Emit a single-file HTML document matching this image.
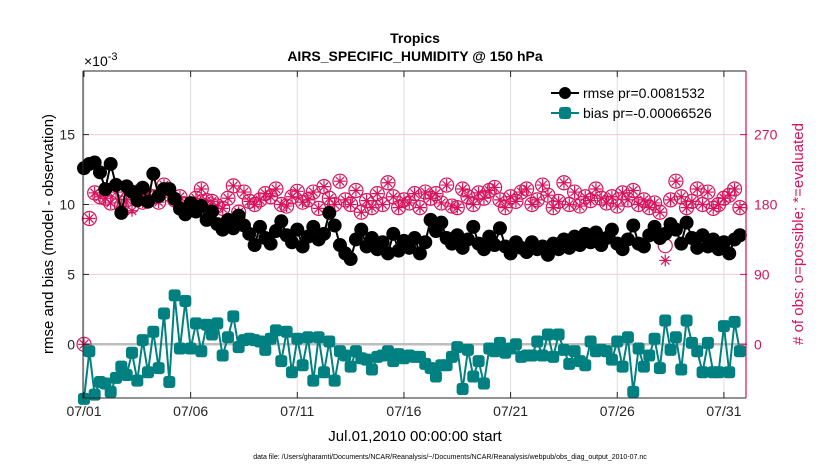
<!DOCTYPE html>
<html><head><meta charset="utf-8">
<style>
html,body{margin:0;padding:0;background:#fff;}
svg{display:block;font-family:"Liberation Sans",sans-serif;}
</style></head>
<body>
<svg id="chart" width="830" height="470" viewBox="0 0 830 470">
  <text x="415" y="43" text-anchor="middle" font-size="14" font-weight="bold">Tropics</text>
  <text x="415" y="61" text-anchor="middle" font-size="14" font-weight="bold">AIRS_SPECIFIC_HUMIDITY @ 150 hPa</text>
  <text x="84" y="66" font-size="14">×10<tspan dy="-6" font-size="11">-3</tspan></text>
  <text transform="translate(53,234) rotate(-90)" text-anchor="middle" font-size="15">rmse and bias (model - observation)</text>
  <text transform="translate(803,234) rotate(-90)" text-anchor="middle" font-size="15" fill="#d6135c"># of obs: o=possible; *=evaluated</text>
  <text x="415" y="441" text-anchor="middle" font-size="15">Jul.01,2010 00:00:00 start</text>
  <text x="450" y="459" text-anchor="middle" font-size="7">data file: /Users/gharamti/Documents/NCAR/Reanalysis/~/Documents/NCAR/Reanalysis/webpub/obs_diag_output_2010-07.nc</text>
  <g id="grid"></g>
  <g id="marks"></g>
  <g id="axes"></g>
  <g id="legend">
    <line x1="551" y1="93" x2="579" y2="93" stroke="#000" stroke-width="2"/>
    <circle cx="565" cy="93" r="6" fill="#000"/>
    <text x="583" y="98" font-size="14">rmse pr=0.0081532</text>
    <line x1="551" y1="113" x2="579" y2="113" stroke="#008080" stroke-width="2"/>
    <rect x="559" y="107" width="12" height="12" rx="3" fill="#008080"/>
    <text x="583" y="118" font-size="14">bias pr=-0.00066526</text>
  </g>
</svg>
<script>
const xTickLabels = ["07/01","07/06","07/11","07/16","07/21","07/26","07/31"];
const xTickDays = [0,5,10,15,20,25,30];
const yTicks = [0,5,10,15];
const yRightTicks = [0,90,180,270];
const rmse = [12.6,12.9,13.0,12.3,11.1,12.9,11.4,9.4,11.3,10.9,10.3,11.2,10.2,12.2,10.6,11.1,
11.1,10.4,9.7,9.3,10.1,9.5,9.9,8.9,9.5,8.6,8.2,8.9,8.3,9.2,8.5,7.9,
7.1,8.4,7.6,7.2,8.1,8.8,7.8,7.3,8.2,7.0,7.7,8.4,7.5,7.9,9.4,8.5,
7.1,6.5,6.1,7.5,8.2,7.0,7.6,6.8,7.3,6.5,7.9,6.7,7.4,6.9,7.6,6.5,
7.3,8.9,8.1,8.7,7.6,7.2,7.8,6.9,7.5,8.4,7.2,6.8,7.7,7.1,8.3,7.0,
6.5,7.3,6.9,6.6,7.3,6.8,7.0,6.4,7.2,6.8,7.5,6.9,7.7,7.1,7.9,7.3,
8.0,7.1,7.6,8.2,7.2,6.8,7.5,8.5,7.2,7.0,7.8,8.4,7.6,7.9,8.6,8.2,
7.2,8.7,7.6,6.9,7.8,7.0,7.5,6.8,7.3,6.5,7.5,7.8];
const bias = [-3.9,-0.5,-3.6,-2.7,-2.8,-3.4,-2.4,-1.6,-2.2,-0.6,
-2.6,0.3,-2.0,0.9,-1.7,2.2,-2.7,3.5,-0.3,3.1,
-0.3,1.5,-0.5,1.4,0.7,1.5,-0.8,0.5,2.0,-0.2,
0.3,0.4,0.3,0.2,-0.4,0.4,1.0,-1.2,0.9,-2.0,
0.4,-1.5,0.5,-2.6,0.5,-2.0,0.2,-2.6,-0.5,-0.8,
-1.6,-0.5,-1.0,-1.1,-1.8,-0.9,-0.8,-0.5,-1.2,-0.7,-1.0,
-0.8,-0.9,-0.9,-1.4,-1.7,-2.3,-1.5,-1.5,-0.9,-0.2,
-3.2,-0.4,-2.3,-1.2,-2.8,-0.3,-0.5,0.1,-0.6,-0.3,
0,-0.9,-0.8,-0.8,0.2,-0.8,0.7,-0.9,0.7,-0.4,
-1.4,-0.5,-1.2,-1.5,0.2,-0.5,-0.4,-0.5,-1.1,0.2,
-1.6,0.5,-3.4,-0.3,-1.6,-0.8,0.4,-1.7,1.7,-0.4,
0.5,-1.8,1.7,0.1,-0.5,-2.0,0.1,-2.0,-2.0,1.3,
-2.0,1.6,-0.5];
const possible = [0,162,195,190,188,182,196,178,186,178,196,183,192,190,183,205,
193,186,190,180,178,188,200,185,184,178,175,188,204,170,196,184,
180,186,194,190,200,180,178,190,197,183,186,196,175,203,188,180,
210,186,180,198,170,185,176,194,180,208,190,176,186,182,194,176,
196,188,194,182,205,178,176,200,190,180,195,188,198,202,186,176,
190,184,196,200,180,186,205,192,176,184,208,180,196,178,190,185,
200,188,182,190,178,195,186,198,180,186,176,182,170,127,186,210,
190,176,184,200,180,196,175,180,188,192,200,176];
const evaluated = [0,162,195,190,188,182,196,178,186,172,196,183,192,190,183,205,
193,186,190,180,178,188,200,185,184,178,175,188,204,170,196,184,
180,186,194,190,200,180,178,190,197,183,186,196,175,203,188,180,
210,186,180,198,170,185,176,194,180,208,190,176,186,182,194,176,
196,188,194,182,205,178,176,200,190,180,195,188,198,202,186,176,
190,184,196,200,180,186,205,192,176,184,208,180,196,178,190,185,
200,188,182,190,178,195,186,198,180,186,176,182,170,108,186,210,
190,176,184,200,180,196,175,180,188,192,200,176];

const NS = "http://www.w3.org/2000/svg";
const L = 83, R = 746, T = 71, B = 398;
const x0 = 84, pxPerDay = 21.33;
const yZero = 344.3, pxPerUnit = 13.98;
function xDay(d){ return x0 + d * pxPerDay; }
function xIdx(i){ return xDay(i / 4); }
function yL(v){ return yZero - v * pxPerUnit; }
function yR(v){ return yL(v / 18); }
function mk(tag, attrs, parent){
  const e = document.createElementNS(NS, tag);
  for (const k in attrs) e.setAttribute(k, attrs[k]);
  parent.appendChild(e); return e;
}
const grid = document.getElementById('grid');
const marks = document.getElementById('marks');
const axes = document.getElementById('axes');
const RED = "#d6135c", TEAL = "#008080";

xTickDays.forEach((d, i) => {
  const g = mk('line', {x1:xDay(d), x2:xDay(d), y1:T, y2:B, stroke:"#dcdcdc", "stroke-width":1}, grid);
  
  
});
yRightTicks.forEach(v => {
  const g = mk('line', {x1:L, x2:R, y1:yR(v), y2:yR(v), stroke:"#f7c6d8", "stroke-width":1}, grid);
  
  
});
const zl = mk('line', {x1:L, x2:R, y1:yL(0), y2:yL(0), stroke:"#bdbdbd", "stroke-width":2.5}, grid);



possible.forEach((v, i) => {
  const c = mk('circle', {cx:xIdx(i), cy:yR(v), r:7, fill:"none", stroke:RED, "stroke-width":1.2}, marks);
  
  
});
evaluated.forEach((v, i) => {
  const cx = xIdx(i), cy = yR(v), r = 6;
  const s = mk('path', {d:`M${cx-r},${cy}H${cx+r}M${cx},${cy-r}V${cy+r}M${cx-r*0.7},${cy-r*0.7}L${cx+r*0.7},${cy+r*0.7}M${cx-r*0.7},${cy+r*0.7}L${cx+r*0.7},${cy-r*0.7}`, stroke:RED, "stroke-width":1.2, fill:"none"}, marks);
  
  
});

const rl = mk('polyline', {points: rmse.map((v,i)=>xIdx(i)+','+yL(v)).join(' '), fill:"none", stroke:"#000", "stroke-width":2}, marks);


rmse.forEach((v, i) => {
  const c = mk('circle', {cx:xIdx(i), cy:yL(v), r:7, fill:"#000"}, marks);
  
  
});
const bl = mk('polyline', {points: bias.map((v,i)=>xIdx(i)+','+yL(v)).join(' '), fill:"none", stroke:TEAL, "stroke-width":2}, marks);


bias.forEach((v, i) => {
  const s = mk('rect', {x:xIdx(i)-6, y:yL(v)-6, width:12, height:12, rx:3, fill:TEAL}, marks);
  
  
});

const frame = mk('path', {d:`M${L},${T}H${R}M${L},${T}V${B}H${R}`, stroke:"#262626", "stroke-width":1, fill:"none"}, axes);


const rax = mk('line', {x1:R, x2:R, y1:T, y2:B, stroke:RED, "stroke-width":1.2}, axes);


xTickDays.forEach((d, i) => {
  mk('line', {x1:xDay(d), x2:xDay(d), y1:B, y2:B-6, stroke:"#262626"}, axes);
  mk('line', {x1:xDay(d), x2:xDay(d), y1:T, y2:T+6, stroke:"#262626"}, axes);
  const t = mk('text', {x:xDay(d), y:B+18, "text-anchor":"middle", "font-size":14, fill:"#262626"}, axes);
  t.textContent = xTickLabels[i];
  
  
});
yTicks.forEach(v => {
  mk('line', {x1:L, x2:L+6, y1:yL(v), y2:yL(v), stroke:"#262626"}, axes);
  const t = mk('text', {x:L-8, y:yL(v)+5, "text-anchor":"end", "font-size":14, fill:"#262626"}, axes);
  t.textContent = v;
  
  
});
yRightTicks.forEach(v => {
  mk('line', {x1:R-6, x2:R+1, y1:yR(v), y2:yR(v), stroke:RED}, axes);
  const t = mk('text', {x:R+8, y:yR(v)+5, "text-anchor":"start", "font-size":14, fill:RED}, axes);
  t.textContent = v;
  
  
});
</script>
</body></html>
